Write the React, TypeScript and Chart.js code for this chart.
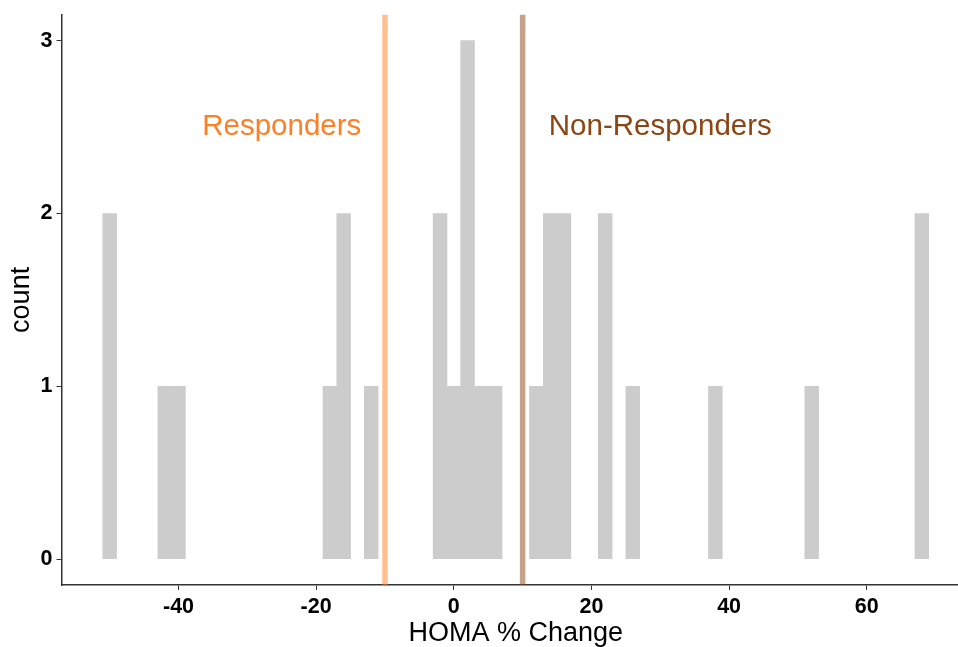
import { useEffect, useRef } from "react";
import { Chart, registerables } from "chart.js";

Chart.register(...registerables);

// Histogram bins (binwidth 2), centers and counts
const binCenters = [-50, -42, -40, -18, -16, -12, -2, 0, 2, 4, 6, 12, 14, 16, 22, 26, 38, 52, 68];
const binCounts = [2, 1, 1, 1, 2, 1, 2, 1, 3, 1, 1, 1, 2, 2, 2, 1, 1, 1, 2];

const xTicks = [-40, -20, 0, 20, 40, 60];
const yTicks = [0, 1, 2, 3];

const cutoffs = [-10, 10];
const groupLabels = ["Responders", "Non-Responders"];
const groupLabelX = [-25, 30];
const groupLabelY = [2.5, 2.5];

const xTitle = "HOMA % Change";
const yTitle = "count";

const FAMILY = '"Liberation Sans", Arial, Helvetica, sans-serif';
const textColors = ["#FF7F24", "#8B4513"];
const lineColors = ["rgba(255,127,36,0.5)", "rgba(139,69,19,0.5)"];

const annotPlugin = {
  id: "annot",
  afterDatasetsDraw(chart: any) {
    const { ctx, chartArea, scales } = chart;
    const x = scales.x;
    const y = scales.y;
    ctx.save();
    cutoffs.forEach((v, i) => {
      const px = x.getPixelForValue(v);
      ctx.strokeStyle = lineColors[i];
      ctx.lineWidth = 5.5;
      ctx.beginPath();
      ctx.moveTo(px, chartArea.top);
      ctx.lineTo(px, chartArea.bottom);
      ctx.stroke();
    });
    ctx.font = `29.5px ${FAMILY}`;
    ctx.textAlign = "center";
    ctx.textBaseline = "middle";
    groupLabels.forEach((t, i) => {
      ctx.fillStyle = textColors[i];
      ctx.fillText(t, x.getPixelForValue(groupLabelX[i]), y.getPixelForValue(groupLabelY[i]));
    });
    ctx.restore();
  },
};

export default function App() {
  const ref = useRef<HTMLCanvasElement | null>(null);

  useEffect(() => {
    if (!ref.current) return;
    const gridCommon = {
      display: true,
      drawOnChartArea: false,
      drawTicks: true,
      offset: false,
      tickLength: 5,
      color: "#333333",
      lineWidth: 1,
    };
    const borderCommon = { display: true, color: "#333333", width: 1.5 };
    const chart = new Chart(ref.current, {
      type: "bar",
      data: {
        datasets: [
          {
            data: binCenters.map((c, i) => ({ x: c, y: binCounts[i] })),
            backgroundColor: "#CCCCCC",
            borderWidth: 0,
            barPercentage: 1,
            categoryPercentage: 1,
          } as any,
        ],
      },
      options: {
        animation: false,
        responsive: false,
        devicePixelRatio: 1,
        layout: { padding: { top: 12.7, right: 0, bottom: 0, left: 0 } },
        plugins: {
          legend: { display: false },
          tooltip: { enabled: false },
        },
        scales: {
          x: {
            type: "linear",
            min: -57,
            max: 75,
            offset: false,
            afterBuildTicks: (s: any) => {
              s.ticks = xTicks.map((v) => ({ value: v }));
            },
            afterFit: (s: any) => {
              s.height = 62;
            },
            grid: gridCommon,
            border: borderCommon,
            ticks: {
              color: "#000000",
              font: { family: FAMILY, size: 21.5, weight: "bold" },
              padding: 4,
              maxRotation: 0,
              autoSkip: false,
            },
            title: {
              display: true,
              text: xTitle,
              color: "#000000",
              font: { family: FAMILY, size: 27 },
              padding: { top: 0, bottom: -3 },
            },
          },
          y: {
            type: "linear",
            min: -0.15,
            max: 3.15,
            afterBuildTicks: (s: any) => {
              s.ticks = yTicks.map((v) => ({ value: v }));
            },
            afterFit: (s: any) => {
              s.width = 61.5;
            },
            grid: gridCommon,
            border: borderCommon,
            ticks: {
              color: "#000000",
              font: { family: FAMILY, size: 21.5, weight: "bold", lineHeight: 1 },
              padding: 4,
              autoSkip: false,
            },
            title: {
              display: true,
              text: yTitle,
              color: "#000000",
              font: { family: FAMILY, size: 27 },
              padding: { top: 5, bottom: 0 },
            },
          },
        },
      } as any,
      plugins: [annotPlugin],
    });
    return () => chart.destroy();
  }, []);

  return (
    <div
      style={{
        position: "fixed",
        left: 0,
        top: 0,
        width: 958,
        height: 647,
        overflow: "hidden",
        background: "#ffffff",
      }}
    >
      <canvas ref={ref} width={970} height={647} style={{ display: "block", width: 970, height: 647 }} />
    </div>
  );
}
